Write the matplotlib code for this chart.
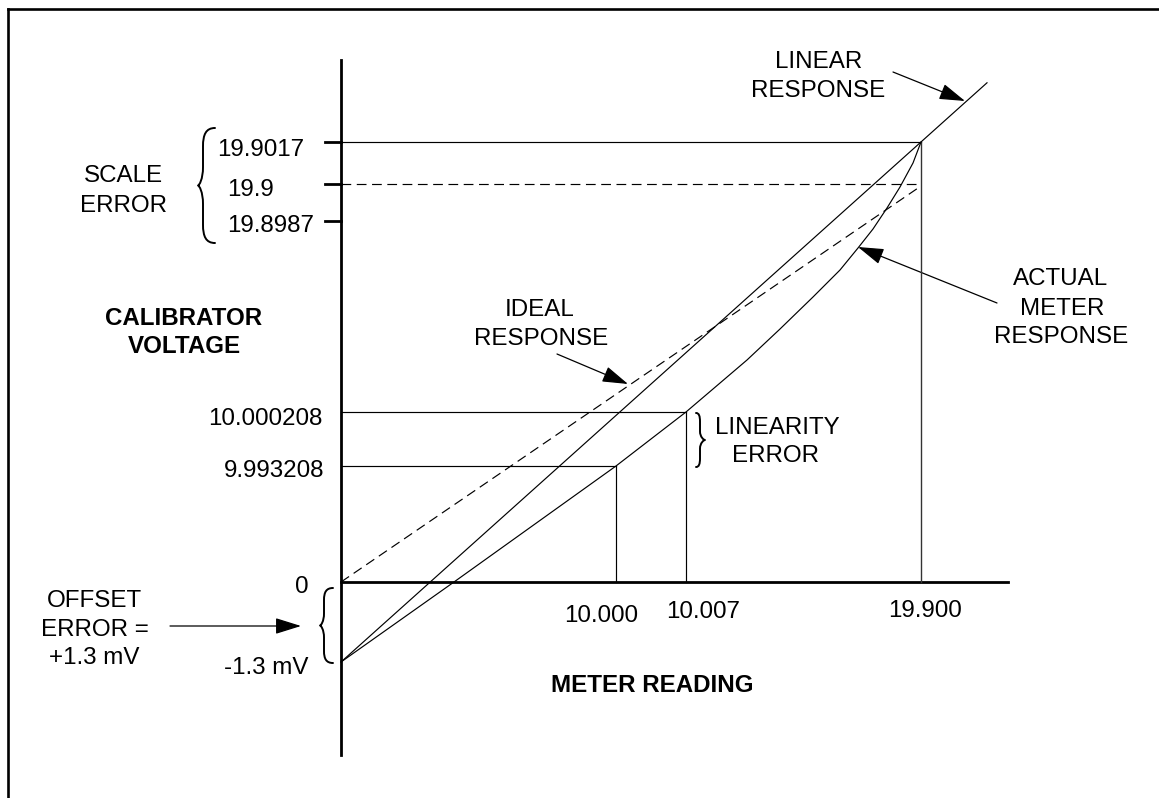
import matplotlib
matplotlib.use("Agg")
import matplotlib.pyplot as plt
from matplotlib.path import Path
from matplotlib.patches import PathPatch, FancyArrowPatch

plt.rcParams['font.family'] = ['Liberation Sans', 'DejaVu Sans']
plt.rcParams['lines.scale_dashes'] = False

# ---- values shown on the diagram ------------------------------------------
# calibrator voltages marked on the vertical axis
scale_labels = ['19.9017', '19.9', '19.8987']
linearity_labels = ['10.000208', '9.993208']
offset_labels = ['0', '-1.3 mV']
# meter readings marked on the horizontal axis
reading_labels = ['10.000', '10.007', '19.900']

# ---- schematic layout (drawing units = pixels, y grows downward) ----------
scale_rows = [142, 184, 221]          # rows of the three scale-error ticks
linearity_rows = [412, 466]           # rows of 10.000208 and 9.993208
reading_cols = [601, 703, 925]        # label centres of the readings
reading_drop = [616, 686, 921]        # columns of the drop lines
zero_row, offset_row = 582, 662       # 0 V and -1.3 mV
origin_col = 341

# actual (non-linear) meter response, read point by point
actual_x = [341, 454, 616, 686, 713, 747, 780, 813, 840, 858, 873, 887, 900, 913, 921]
actual_y = [662, 582, 466, 412, 389, 360, 329, 297, 270, 248, 229, 208, 187, 163, 142]
# straight line joining offset point and full-scale point, extended
linear_x = [341, 987]
linear_y = [662, 82.8]
# ideal response: through zero, ending at 19.9
ideal_x = [341, 921]
ideal_y = [582, 186]

W, H = 1159, 798
fig = plt.figure(figsize=(W / 100, H / 100), dpi=100)
ax = fig.add_axes([0, 0, 1, 1])
ax.set_xlim(0, W)
ax.set_ylim(H, 0)
ax.axis('off')

FS = 17.4
thin = 0.85
K = 'black'

# frame
ax.plot([8, 8], [H, 9], color=K, lw=1.9, solid_capstyle='projecting')
ax.plot([8, W], [9, 9], color=K, lw=1.9, solid_capstyle='projecting')

# axes
ax.plot([origin_col, origin_col], [60, 755], color=K, lw=2.0)
ax.plot([origin_col, 1008], [zero_row, zero_row], color=K, lw=2.0)

# scale-error ticks on the voltage axis
for r in scale_rows:
    ax.plot([325, origin_col], [r, r], color=K, lw=2.0)

# full-scale reference lines
ax.plot([origin_col, reading_drop[2]], [scale_rows[0]] * 2, color=K, lw=thin)
ax.plot([origin_col, reading_drop[2]], [scale_rows[1]] * 2, color=K, lw=thin,
        linestyle=(0, (7, 4)))
ax.plot([reading_drop[2]] * 2, [scale_rows[0], zero_row], color='#333333', lw=1.0)

# linearity reference lines
ax.plot([origin_col, reading_drop[1]], [linearity_rows[0]] * 2, color=K, lw=thin)
ax.plot([reading_drop[1]] * 2, [linearity_rows[0], zero_row], color=K, lw=thin)
ax.plot([origin_col, reading_drop[0]], [linearity_rows[1]] * 2, color=K, lw=thin)
ax.plot([reading_drop[0]] * 2, [linearity_rows[1], zero_row], color=K, lw=thin)

# response lines
ax.plot(ideal_x, ideal_y, color=K, lw=thin, linestyle=(0, (7, 4)))
ax.plot(linear_x, linear_y, color=K, lw=thin)
ax.plot(actual_x, actual_y, color=K, lw=thin, solid_joinstyle='round')


def brace(x_end, x_shaft, x_tip, y_top, y_bot, lw=1.4):
    ym = (y_top + y_bot) / 2
    r = (ym - y_top) * 0.32
    ke = x_shaft + (x_end - x_shaft) * 0.25
    kt = x_tip + (x_shaft - x_tip) * 0.25
    verts = [
        (x_end, y_top),
        (ke, y_top), (x_shaft, y_top + r * 0.35), (x_shaft, y_top + r),
        (x_shaft, ym - r),
        (x_shaft, ym - r * 0.35), (kt, ym), (x_tip, ym),
        (kt, ym), (x_shaft, ym + r * 0.35), (x_shaft, ym + r),
        (x_shaft, y_bot - r),
        (x_shaft, y_bot - r * 0.35), (ke, y_bot), (x_end, y_bot),
    ]
    codes = [Path.MOVETO] + [Path.CURVE4] * 3 + [Path.LINETO] + [Path.CURVE4] * 6 \
        + [Path.LINETO] + [Path.CURVE4] * 3
    ax.add_patch(PathPatch(Path(verts, codes), fill=False, lw=lw, color=K,
                           capstyle='round', joinstyle='round'))


brace(215, 203, 198, 128, 243)
brace(333, 324, 320, 588, 663)
brace(696, 700, 705, 413, 467)


def arrow(tail, tip):
    ax.add_patch(FancyArrowPatch(tail, tip, arrowstyle='-|>,head_length=0.8,head_width=0.25',
                                 mutation_scale=20, color=K, lw=0.9,
                                 shrinkA=0, shrinkB=0))


arrow((557, 354), (628, 384))
arrow((893, 72), (965, 101))
arrow((997, 303), (858, 247))
arrow((170, 626), (301, 626))


def label(x, y, s, ha='center', bold=False):
    ax.text(x, y, s, ha=ha, va='baseline', fontsize=FS,
            fontweight='bold' if bold else 'normal', color=K)


# scale error labels
label(217, 156, scale_labels[0], ha='left')
label(227, 196, scale_labels[1], ha='left')
label(227, 232, scale_labels[2], ha='left')
label(123, 182.5, 'SCALE')
label(123, 212, 'ERROR')

# axis titles
label(184, 325, 'CALIBRATOR', bold=True)
label(184, 353, 'VOLTAGE', bold=True)
label(652, 692, 'METER READING', bold=True)

# linearity voltages
label(323, 425, linearity_labels[0], ha='right')
label(324, 477, linearity_labels[1], ha='right')

# offset
label(302, 593, offset_labels[0])
label(308, 674, offset_labels[1], ha='right')
label(94, 607, 'OFFSET')
label(95, 636, 'ERROR =')
label(94, 664, '+1.3 mV')

# readings
label(reading_cols[0], 622, reading_labels[0])
label(reading_cols[1], 618, reading_labels[1])
label(reading_cols[2], 617, reading_labels[2])

# curve annotations
label(540, 316.5, 'IDEAL')
label(541, 345, 'RESPONSE')
label(715, 434, 'LINEARITY', ha='left')
label(776, 462.5, 'ERROR')
label(819, 68, 'LINEAR')
label(818, 97, 'RESPONSE')
label(1061, 285, 'ACTUAL')
label(1062, 315, 'METER')
label(1061, 343, 'RESPONSE')

fig.savefig('out.png', dpi=100, facecolor='white')
